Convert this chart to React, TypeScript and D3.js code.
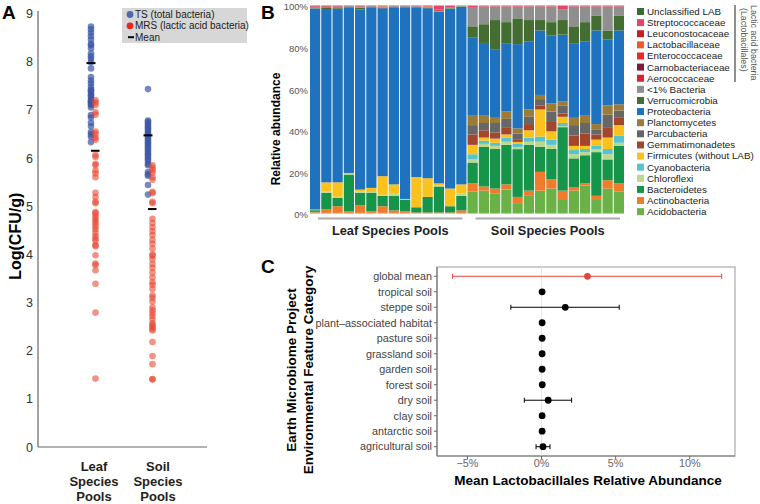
import React from 'react';
import * as d3 from 'd3';

const FONT = '"Liberation Sans", Arial, Helvetica, sans-serif';

// ---------- Panel A: Log(CFU/g) per sample ----------
const leafTS = [8.73, 8.67, 8.6, 8.53, 8.46, 8.37, 8.34, 8.28, 8.17, 8.11, 8.06, 7.99, 7.86, 7.68, 7.61, 7.55, 7.48,
  7.42, 7.4, 7.37, 7.32, 7.29, 7.27, 7.21, 7.18, 7.16, 7.12, 7.1, 7.05, 6.89, 6.84, 6.73, 6.66, 6.54, 6.49, 6.44, 6.33];
const leafMRS = [7.2, 7.15, 7.1, 6.95, 6.9, 6.55, 6.5, 6.42, 6.38, 6.06, 6.02, 5.88, 5.85, 5.74, 5.68, 5.6, 5.28,
  5.19, 5.09, 5.06, 4.88, 4.85, 4.79, 4.74, 4.69, 4.64, 4.58, 4.52, 4.45, 4.38, 4.33, 4.28, 4.19, 4.17, 3.98, 3.81,
  3.78, 3.67, 3.39, 2.79, 1.42];
const soilTS = [7.43, 6.78, 6.75, 6.71, 6.67, 6.63, 6.6, 6.56, 6.52, 6.49, 6.45, 6.41, 6.37, 6.33, 6.3, 6.26, 6.22,
  6.18, 6.14, 6.1, 6.06, 6.02, 5.98, 5.94, 5.88, 5.85, 5.71, 5.66, 5.63, 5.44, 5.24];
const soilMRS = [5.85, 5.8, 5.75, 5.7, 5.6, 5.55, 5.3, 5.27, 5.09, 5.06, 4.74, 4.65, 4.56, 4.48, 4.4, 4.3, 4.22,
  4.12, 4.0, 3.97, 3.9, 3.8, 3.72, 3.62, 3.52, 3.42, 3.37, 3.28, 3.15, 3.1, 3.02, 2.9, 2.84, 2.78, 2.72, 2.65, 2.57,
  2.53, 2.49, 2.45, 2.42, 2.18, 1.89, 1.72, 1.41, 1.4];
const pools = ['Leaf', 'Soil'];
const meanTS = [7.97, 6.47];
const meanMRS = [6.15, 4.94];
const ticksA = [0, 1, 2, 3, 4, 5, 6, 7, 8, 9];

// ---------- Panel B: relative abundance per species pool ----------
const samples = ['L1', 'L2', 'L3', 'L4', 'L5', 'L6', 'L7', 'L8', 'L9', 'L10', 'L11', 'L12', 'L13', 'L14',
  'S1', 'S2', 'S3', 'S4', 'S5', 'S6', 'S7', 'S8', 'S9', 'S10', 'S11', 'S12', 'S13', 'S14'];
// stacking order, bottom to top
const taxa = ['Acidobacteria', 'Actinobacteria', 'Bacteroidetes', 'Chloroflexi', 'Cyanobacteria',
  'Firmicutes (without LAB)', 'Gemmatimonadetes', 'Parcubacteria', 'Planctomycetes', 'Proteobacteria',
  'Verrucomicrobia', '<1% Bacteria', 'Aerococcaceae', 'Carnobacteriaceae', 'Enterococcaceae',
  'Lactobacillaceae', 'Leuconostocaceae', 'Streptococcaceae', 'Unclassified LAB'];
const taxaColors = ['#6ab247', '#f07b2b', '#15944a', '#bad98c', '#58c3cd', '#fbc21d', '#a2472b', '#676767',
  '#9b7b38', '#1f72bd', '#446d31', '#8f8f8f', '#d9222f', '#7a1b40', '#ea2a2a', '#ee5b2b', '#c0202a',
  '#e6456a', '#3d6a33'];

const acidobacteria = [0.5, 0.3, 0.3, 0.3, 0.3, 0.3, 0.3, 0.3, 0.3, 0.2, 0.2, 0.2, 0.2, 0.3,
  10.5, 11, 9.5, 11.5, 5, 8.5, 11, 12, 6.5, 11, 13.5, 6.5, 12, 10.5];
const actinobacteria = [0.3, 1.7, 3.2, 0.7, 3.7, 0.7, 3.2, 1.2, 0.7, 0.3, 0.3, 0.3, 0.3, 1.2,
  4, 2, 2.5, 2.5, 3, 2.5, 9, 4.5, 4.5, 1.5, 1, 2, 4, 4];
const bacteroidetes = [0.8, 8, 4, 17.5, 6, 9, 5, 7, 5.5, 2.5, 7.5, 12.5, 3, 7,
  10, 19, 19, 19, 23, 22, 12, 14.5, 30.5, 14, 13.5, 21, 10, 18];
const chloroflexi = [0.2, 0.5, 0.5, 0.5, 0.5, 0.3, 0.5, 1, 0.5, 0, 0, 0.5, 0, 1,
  1.5, 1.5, 1.5, 1.5, 1, 1.5, 2.5, 2, 0.5, 2, 1.5, 1.5, 2.5, 1.5];
const cyanobacteria = [0, 0, 0, 0, 0, 0, 0, 0, 0, 0, 0, 0, 0, 0,
  2.5, 1.5, 1.5, 2, 1.5, 2, 2.5, 2.5, 1.5, 2, 1.5, 1.5, 2.5, 3.5];
const firmicutes = [0, 4.5, 7, 0.5, 1, 2, 9, 4.5, 0, 14.5, 9, 1, 8.5, 4.5,
  4.5, 1.5, 2, 1.5, 1, 3.5, 13, 4, 3, 2, 1.5, 3, 5.5, 5];
const gemmatimonadetes = [0, 0, 0, 0, 0, 0, 0, 0, 0, 0, 0, 0, 0, 0,
  5, 3.5, 3, 3.5, 1, 3, 2, 4.5, 1.5, 5, 6, 2.5, 5, 3.5];
const parcubacteria = [0, 0, 0, 0, 0, 0, 0, 0, 0, 0, 0, 0, 0, 0,
  4.5, 3.5, 4.5, 4, 3, 3.5, 3, 5, 4, 5, 5, 2.5, 6, 3.5];
const planctomycetes = [0.2, 0, 0, 0, 0, 0, 0, 0, 0, 0, 0, 0, 0, 0,
  4.5, 3.5, 2.5, 3.5, 2.5, 3.5, 2, 4, 2, 3.5, 3.5, 2.5, 4.5, 3];
const proteobacteria = [97, 83.5, 83.5, 79.5, 86.5, 86.7, 81, 85, 92, 81.5, 82, 82.5, 86.5, 85.3,
  37.5, 35, 33, 32.6, 40.6, 32.6, 31, 32.5, 32, 35.6, 35.6, 45, 31.6, 35.5];
const verrucomicrobia = [0.2, 0.5, 0.3, 0.3, 1, 0.3, 0.3, 0.3, 0.3, 0.3, 0.3, 0.2, 0.2, 0.2,
  5.5, 9, 14, 10.4, 12.4, 10.4, 5, 6.5, 7, 8.4, 9.4, 7, 4.4, 7];
const lessThan1 = [0.5, 0.5, 0.5, 0.4, 0.5, 0.4, 0.4, 0.4, 0.4, 0.4, 0.4, 0.3, 0.3, 0.3,
  9.3, 8.5, 6.5, 7.5, 5.5, 6.5, 6.5, 7.5, 5, 9.5, 7.5, 4.5, 11.5, 4.5];
const aerococcaceae = [0, 0.2, 0, 0, 0, 0, 0, 0, 0, 0, 0, 0, 0, 0,
  0, 0, 0, 0, 0, 0, 0, 0, 0, 0, 0, 0, 0, 0];
const carnobacteriaceae = [0, 0, 0, 0, 0, 0, 0, 0, 0, 0, 0, 0, 0, 0,
  0, 0, 0, 0, 0, 0, 0, 0, 0, 0, 0, 0, 0, 0];
const enterococcaceae = [0, 0, 0, 0, 0, 0, 0, 0, 0, 0, 0, 0, 0, 0,
  0, 0, 0, 0, 0.2, 0, 0, 0, 0, 0, 0, 0, 0, 0];
const lactobacillaceae = [0, 0, 0, 0, 0, 0, 0.3, 0, 0, 0, 0.3, 0, 0, 0,
  0, 0, 0, 0, 0, 0, 0, 0, 0, 0, 0, 0, 0, 0];
const leuconostocaceae = [0.3, 0.2, 0.2, 0, 0.2, 0, 0, 0, 0, 0, 0, 0.5, 0.2, 0,
  0, 0, 0, 0, 0, 0, 0, 0, 0, 0, 0, 0, 0, 0];
const streptococcaceae = [0.5, 0.3, 0.5, 0.3, 0.3, 0.3, 0.3, 0.3, 0.3, 0.3, 0.3, 2, 0.8, 0.2,
  0.7, 0.5, 0.5, 0.5, 0.5, 0.5, 0.5, 0.5, 2, 0.5, 0.5, 0.5, 0.5, 0.5];
const unclassifiedLAB = [0, 0, 0, 0, 0, 0, 0, 0, 0, 0, 0, 0, 0, 0,
  0, 0, 0, 0, 0, 0, 0, 0, 0, 0, 0, 0, 0, 0];
const abundance = [acidobacteria, actinobacteria, bacteroidetes, chloroflexi, cyanobacteria, firmicutes,
  gemmatimonadetes, parcubacteria, planctomycetes, proteobacteria, verrucomicrobia, lessThan1, aerococcaceae,
  carnobacteriaceae, enterococcaceae, lactobacillaceae, leuconostocaceae, streptococcaceae, unclassifiedLAB];
const groupsB = ['Leaf Species Pools', 'Soil Species Pools'];
const ticksB = [0, 0.2, 0.4, 0.6, 0.8, 1];

// ---------- Panel C: mean Lactobacillales relative abundance (%) ----------
const habitats = ['global mean', 'tropical soil', 'steppe soil', 'plant\u2013associated habitat', 'pasture soil',
  'grassland soil', 'garden soil', 'forest soil', 'dry soil', 'clay soil', 'antarctic soil', 'agricultural soil'];
const habitatMean = [3.1, 0.04, 1.6, 0.04, 0.04, 0.04, 0.04, 0.05, 0.45, 0.04, 0.04, 0.1];
const habitatLow = [-6.0, 0.04, -2.07, 0.04, 0.04, 0.04, 0.04, 0.05, -1.16, 0.04, 0.04, -0.37];
const habitatHigh = [12.15, 0.04, 5.24, 0.04, 0.04, 0.04, 0.04, 0.05, 2.03, 0.04, 0.04, 0.57];
const ticksC = [-5, 0, 5, 10];

const BLUE = '#3a55a5';
const RED = '#e8442c';

function PanelA() {
  const y = d3.scaleLinear().domain([0, 9]).range([447, 13.5]);
  const x = d3.scalePoint().domain(pools).range([93, 150]);
  const xLabel = d3.scalePoint().domain(pools).range([94, 158]);
  const tsSets = [leafTS, soilTS];
  const mrsSets = [leafMRS, soilMRS];
  return (
    <g>
      <text x={2} y={19} fontSize={19} fontWeight="bold">A</text>
      <line x1={38} x2={38} y1={11} y2={447} stroke="#666" strokeWidth={1.2} />
      <line x1={38} x2={207} y1={447} y2={447} stroke="#666" strokeWidth={1.2} />
      {ticksA.map(t => (
        <text key={t} x={33} y={y(t)} dy="0.36em" textAnchor="end" fontSize={12.5} fill="#333">{t}</text>
      ))}
      <text transform={`translate(21,${(y(0) + y(9)) / 2 + 6}) rotate(-90)`} textAnchor="middle"
        fontSize={16} fontWeight="bold">Log(CFU/g)</text>
      {pools.map((p, i) => (
        <g key={p}>
          {tsSets[i].map((v, j) => (
            <circle key={'t' + j} cx={(x(p) as number) - 2} cy={y(v)} r={3.3} fill={BLUE} fillOpacity={0.7} />
          ))}
          {mrsSets[i].map((v, j) => (
            <circle key={'m' + j} cx={(x(p) as number) + 2.5} cy={y(v)} r={3.3} fill={RED} fillOpacity={0.58} />
          ))}
          <line x1={(x(p) as number) - 6.5} x2={(x(p) as number) + 2.5} y1={y(meanTS[i])} y2={y(meanTS[i])}
            stroke="#000" strokeWidth={2} />
          <line x1={(x(p) as number) - 2} x2={(x(p) as number) + 6.5} y1={y(meanMRS[i])} y2={y(meanMRS[i])}
            stroke="#000" strokeWidth={2} />
          {[p, 'Species', 'Pools'].map((w, k) => (
            <text key={k} x={xLabel(p)} y={471 + k * 15} textAnchor="middle" fontSize={13}
              fontWeight="bold" fill="#222">{w}</text>
          ))}
        </g>
      ))}
      <rect x={122} y={8} width={125} height={35} fill="#d7d7d7" />
      <circle cx={130} cy={14.5} r={3.4} fill={BLUE} fillOpacity={0.85} />
      <text x={135} y={14.5} dy="0.35em" fontSize={10} fill="#222">TS (total bacteria)</text>
      <circle cx={130} cy={25.8} r={3.4} fill="#e3271b" />
      <text x={135} y={25.8} dy="0.35em" fontSize={10} fill="#222">MRS (lactic acid bacteria)</text>
      <line x1={128} x2={134} y1={37.2} y2={37.2} stroke="#000" strokeWidth={2} />
      <text x={135} y={37.2} dy="0.35em" fontSize={10} fill="#222">Mean</text>
    </g>
  );
}

function PanelB() {
  const rows = samples.map((s, i) => {
    const r: any = { sample: s };
    taxa.forEach((t, k) => { r[t] = abundance[k][i]; });
    return r;
  });
  const series = d3.stack().keys(taxa).offset(d3.stackOffsetExpand)(rows);
  const x = d3.scaleBand().domain(samples).range([310, 624]).paddingInner(0.09);
  const y = d3.scaleLinear().domain([0, 1]).range([213.5, 5.5]);
  const bw = x.bandwidth();
  const groupSpans = [
    [samples[0], samples[13]],
    [samples[14], samples[27]],
  ];
  const legendTaxa = taxa.slice().reverse();
  const legendColors = taxaColors.slice().reverse();
  return (
    <g>
      <text x={261} y={19} fontSize={19} fontWeight="bold">B</text>
      {series.map((s, k) => (
        <g key={s.key} fill={taxaColors[k]}>
          {s.map((d: any, i: number) => (
            <rect key={i} x={x(d.data.sample)} y={y(d[1])} width={bw}
              height={Math.max(0, y(d[0]) - y(d[1]))} />
          ))}
        </g>
      ))}
      {ticksB.map(t => (
        <text key={t} x={308} y={y(t) + 1.5} dy="0.35em" textAnchor="end" fontSize={9.5} fill="#555">
          {d3.format('.0%')(t)}
        </text>
      ))}
      <text transform={`translate(280,129) rotate(-90)`} textAnchor="middle" fontSize={12}
        fontWeight="bold">Relative abundance</text>
      {groupSpans.map(([a, b], i) => {
        const x0 = (x(a) as number) + 8;
        const x1 = (x(b) as number) + bw - 4;
        return (
          <g key={i}>
            <line x1={x0} x2={x1} y1={218.5} y2={218.5} stroke="#aaa" strokeWidth={2} />
            <text x={(x0 + x1) / 2} y={234.5} textAnchor="middle" fontSize={12.8} fontWeight="bold"
              fill="#222">{groupsB[i]}</text>
          </g>
        );
      })}
      {legendTaxa.map((t, i) => (
        <g key={t} transform={`translate(637,${11.5 + i * 11.12})`}>
          <rect x={0} y={-3.5} width={7} height={7} fill={legendColors[i]} />
          <text x={10} y={0} dy="0.35em" fontSize={9.8} fill="#222">{t}</text>
        </g>
      ))}
      <line x1={735} x2={735} y1={5} y2={82} stroke="#444" strokeWidth={1.2} />
      <text transform="translate(750.5,5) rotate(90)" fontSize={8.8} fill="#555">
        <tspan x={0} y={0}>Lactic acid bacteria</tspan>
        <tspan x={3} y={10}>(Lactobacillales)</tspan>
      </text>
    </g>
  );
}

function PanelC() {
  const x = d3.scaleLinear().domain([-7.05, 13.05]).range([437, 735]);
  const y = d3.scalePoint().domain(habitats).range([267, 456]).padding(0.6);
  const fmt = (v: number) => (v < 0 ? '\u2212' : '') + Math.abs(v) + '%';
  return (
    <g>
      <text x={261} y={273} fontSize={19} fontWeight="bold">C</text>
      <rect x={437} y={267} width={298} height={189} fill="#fff" stroke="#9a9a9a" strokeWidth={1} />
      <line x1={x(0)} x2={x(0)} y1={267} y2={456} stroke="#e6e6e6" strokeWidth={1} />
      <line x1={437} x2={437} y1={267} y2={456} stroke="#777" strokeWidth={1.2} />
      <line x1={437} x2={735} y1={456} y2={456} stroke="#777" strokeWidth={1.2} />
      {habitats.map((h, i) => {
        const cy = y(h) as number;
        const col = i === 0 ? '#e0473d' : '#000';
        const hasBar = habitatHigh[i] - habitatLow[i] > 0.2;
        return (
          <g key={h}>
            <line x1={434} x2={437} y1={cy} y2={cy} stroke="#666" />
            <text x={432} y={cy} dy="0.35em" textAnchor="end" fontSize={10.8} fill="#444">{h}</text>
            {hasBar && (
              <g stroke={col} strokeWidth={1}>
                <line x1={x(habitatLow[i])} x2={x(habitatHigh[i])} y1={cy} y2={cy} />
                <line x1={x(habitatLow[i])} x2={x(habitatLow[i])} y1={cy - 2.5} y2={cy + 2.5} />
                <line x1={x(habitatHigh[i])} x2={x(habitatHigh[i])} y1={cy - 2.5} y2={cy + 2.5} />
              </g>
            )}
            <circle cx={x(habitatMean[i])} cy={cy} r={3.4} fill={col} />
          </g>
        );
      })}
      {ticksC.map(t => (
        <g key={t}>
          <line x1={x(t)} x2={x(t)} y1={456} y2={459} stroke="#666" />
          <text x={x(t)} y={463.5} dy="0.35em" textAnchor="middle" fontSize={10.8} fill="#666">{fmt(t)}</text>
        </g>
      ))}
      <text x={(437 + 735) / 2 + 2} y={485} textAnchor="middle" fontSize={13.5} fontWeight="bold">
        Mean Lactobacillales Relative Abundance
      </text>
      <text transform="translate(296,370) rotate(-90)" textAnchor="middle" fontSize={13.5} fontWeight="bold">
        <tspan x={0} y={0}>Earth Microbiome Project</tspan>
        <tspan x={0} y={16.5}>Environmental Feature Category</tspan>
      </text>
    </g>
  );
}

export default function App() {
  return (
    <svg width={760} height={504} viewBox="0 0 760 504"
      style={{ position: 'absolute', left: 0, top: 0, background: '#fff', fontFamily: FONT }}>
      <rect width={760} height={504} fill="#fff" />
      <PanelA />
      <PanelB />
      <PanelC />
    </svg>
  );
}
